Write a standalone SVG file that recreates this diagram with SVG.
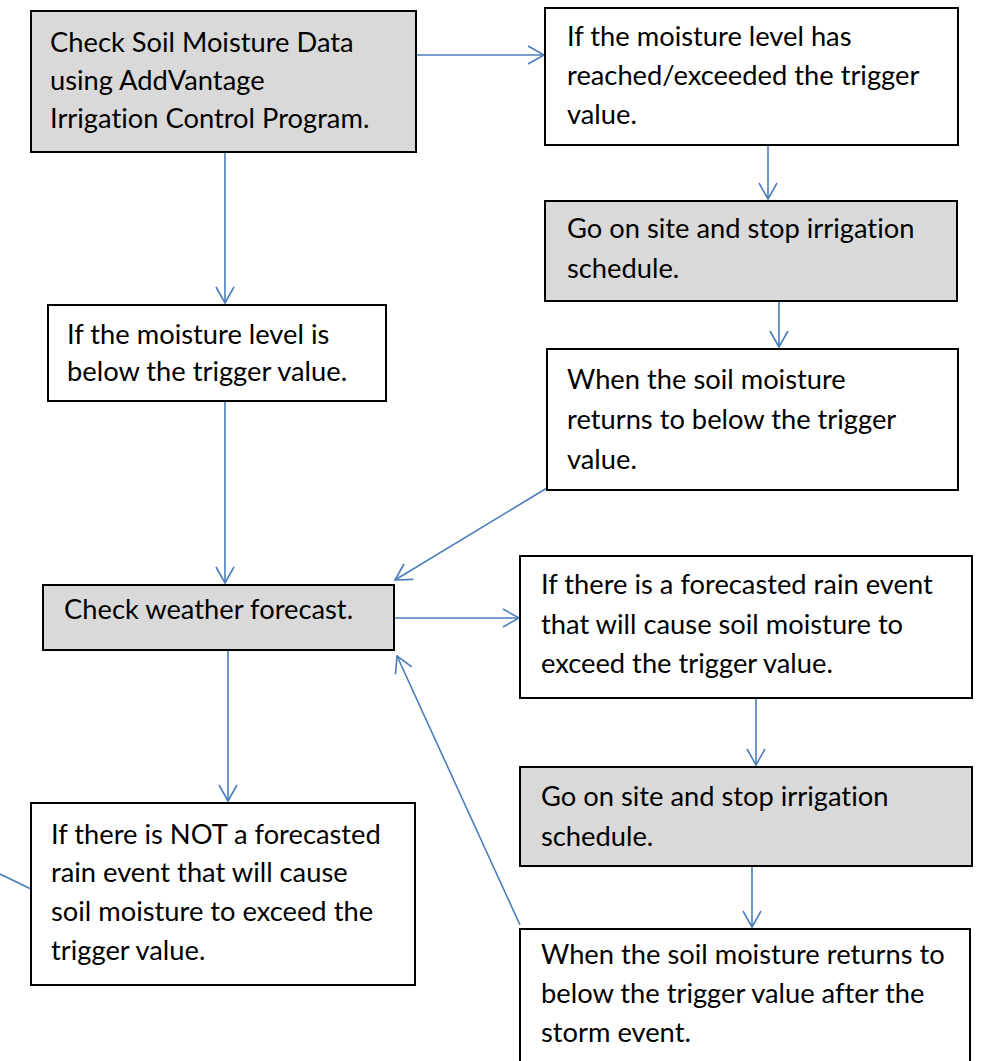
<svg xmlns="http://www.w3.org/2000/svg" width="989" height="1061" viewBox="0 0 989 1061">
<style>
.box{fill:#ffffff;stroke:#000000;stroke-width:2}
.gray{fill:#d9d9d9;stroke:#000000;stroke-width:2}
.t{font-family:Lato,"Liberation Sans",sans-serif;font-size:27.3px;fill:#000000;font-variant-ligatures:none;font-feature-settings:"liga" 0,"clig" 0}
.c{stroke:#4a7ebb;stroke-width:1.6;fill:none}
</style>
<defs>
<marker id="ah" viewBox="-18 -11 20 22" refX="0" refY="0" markerWidth="20" markerHeight="22" markerUnits="userSpaceOnUse" orient="auto">
<path d="M -16 -9 L 0 0 L -16 9" fill="none" stroke="#4a7ebb" stroke-width="1.6"/>
</marker>
</defs>
<rect width="989" height="1061" fill="#ffffff"/>
<g id="connectors">
<line class="c" x1="416" y1="55" x2="544" y2="55" marker-end="url(#ah)"/>
<line class="c" x1="225" y1="152" x2="225" y2="303" marker-end="url(#ah)"/>
<line class="c" x1="768" y1="145" x2="768" y2="199" marker-end="url(#ah)"/>
<line class="c" x1="779" y1="301" x2="779" y2="347" marker-end="url(#ah)"/>
<line class="c" x1="547" y1="488" x2="395" y2="580" marker-end="url(#ah)"/>
<line class="c" x1="225" y1="401" x2="225" y2="583" marker-end="url(#ah)"/>
<line class="c" x1="394" y1="618" x2="519" y2="618" marker-end="url(#ah)"/>
<line class="c" x1="228" y1="650" x2="228" y2="801" marker-end="url(#ah)"/>
<line class="c" x1="756" y1="698" x2="756" y2="765" marker-end="url(#ah)"/>
<line class="c" x1="752" y1="866" x2="752" y2="927" marker-end="url(#ah)"/>
<line class="c" x1="520" y1="925" x2="397" y2="656" marker-end="url(#ah)"/>
<line class="c" x1="0" y1="874" x2="31" y2="889"/>
</g>
<g id="n1">
<rect class="gray" x="31" y="11" width="385" height="141"/>
<text class="t" x="50" y="52">Check Soil Moisture Data</text>
<text class="t" x="50" y="90">using AddVantage</text>
<text class="t" x="50" y="128">Irrigation Control Program.</text>
</g>
<g id="n2">
<rect class="box" x="545" y="8" width="413" height="137"/>
<text class="t" x="567" y="46">If the moisture level has</text>
<text class="t" x="567" y="85">reached/exceeded the trigger</text>
<text class="t" x="567" y="124">value.</text>
</g>
<g id="n3">
<rect class="gray" x="545" y="201" width="412" height="100"/>
<text class="t" x="567" y="238">Go on site and stop irrigation</text>
<text class="t" x="567" y="278">schedule.</text>
</g>
<g id="n4">
<rect class="box" x="547" y="349" width="411" height="141"/>
<text class="t" x="567" y="389">When the soil moisture</text>
<text class="t" x="567" y="429">returns to below the trigger</text>
<text class="t" x="567" y="469">value.</text>
</g>
<g id="n5">
<rect class="box" x="48" y="305" width="338" height="96"/>
<text class="t" x="67" y="344">If the moisture level is</text>
<text class="t" x="67" y="381">below the trigger value.</text>
</g>
<g id="n6">
<rect class="gray" x="43" y="585" width="351" height="65"/>
<text class="t" x="64" y="619">Check weather forecast.</text>
</g>
<g id="n7">
<rect class="box" x="520" y="556" width="452" height="142"/>
<text class="t" x="541" y="594">If there is a forecasted rain event</text>
<text class="t" x="541" y="634">that will cause soil moisture to</text>
<text class="t" x="541" y="673">exceed the trigger value.</text>
</g>
<g id="n8">
<rect class="gray" x="520" y="767" width="452" height="99"/>
<text class="t" x="541" y="806">Go on site and stop irrigation</text>
<text class="t" x="541" y="846">schedule.</text>
</g>
<g id="n9">
<rect class="box" x="520" y="929" width="450" height="145"/>
<text class="t" x="541" y="964">When the soil moisture returns to</text>
<text class="t" x="541" y="1003">below the trigger value after the</text>
<text class="t" x="541" y="1042">storm event.</text>
</g>
<g id="n10">
<rect class="box" x="31" y="803" width="384" height="182"/>
<text class="t" x="51" y="844">If there is NOT a forecasted</text>
<text class="t" x="51" y="882">rain event that will cause</text>
<text class="t" x="51" y="921">soil moisture to exceed the</text>
<text class="t" x="51" y="960">trigger value.</text>
</g>
</svg>
